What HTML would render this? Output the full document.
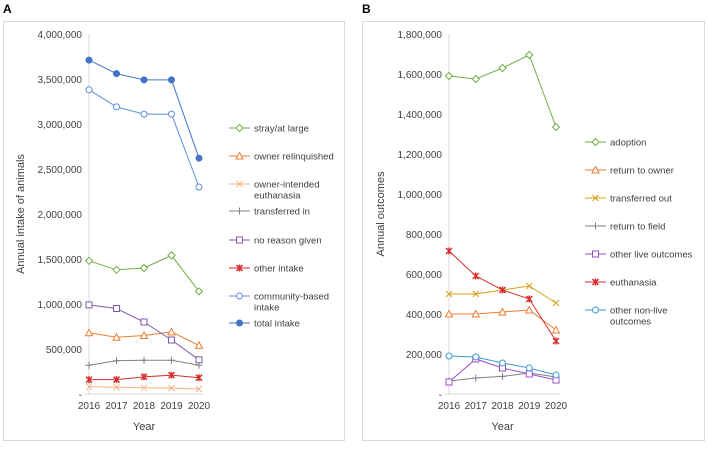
<!DOCTYPE html>
<html><head><meta charset="utf-8"><style>
body{margin:0;background:#fff;font-family:"Liberation Sans",sans-serif}
svg text{font-family:"Liberation Sans",sans-serif;fill:#404040}
</style></head><body>
<svg id="s" width="708" height="445" xmlns="http://www.w3.org/2000/svg">
<text x="3" y="13" font-size="12" font-weight="bold" style="fill:#000">A</text>
<text x="362" y="13" font-size="12" font-weight="bold" style="fill:#000">B</text>
<rect x="3.5" y="21.5" width="341" height="419" fill="none" stroke="#d9d9d9"/>
<rect x="362.5" y="21.5" width="342" height="419" fill="none" stroke="#d9d9d9"/>
</svg>
<script>
const years=["2016","2017","2018","2019","2020"];
const aNames=["stray/at large","owner relinquished","owner-intended|euthanasia","transferred in","no reason given","other intake","community-based|intake","total intake"];
const aStray=[1480000,1380000,1400000,1540000,1140000];
const aOwner=[680000,630000,650000,690000,540000];
const aOIE=[80000,75000,70000,65000,55000];
const aTransIn=[320000,370000,375000,375000,320000];
const aNoReason=[990000,950000,800000,600000,380000];
const aOther=[160000,160000,190000,210000,180000];
const aCommunity=[3380000,3190000,3110000,3110000,2300000];
const aTotal=[3710000,3560000,3490000,3490000,2620000];
const aTicks=[0,500000,1000000,1500000,2000000,2500000,3000000,3500000,4000000];
const bNames=["adoption","return to owner","transferred out","return to field","other live outcomes","euthanasia","other non-live|outcomes"];
const bAdopt=[1590000,1575000,1630000,1695000,1335000];
const bRTO=[400000,400000,410000,420000,320000];
const bTransOut=[500000,500000,520000,540000,455000];
const bRTF=[65000,80000,88000,105000,85000];
const bOtherLive=[60000,175000,130000,100000,70000];
const bEuth=[715000,590000,520000,475000,265000];
const bNonLive=[190000,185000,155000,130000,95000];
const bTicks=[0,200000,400000,600000,800000,1000000,1200000,1400000,1600000,1800000];

const NS="http://www.w3.org/2000/svg",svg=document.getElementById('s');
function el(t,a,p){const e=document.createElementNS(NS,t);for(const k in a)e.setAttribute(k,a[k]);(p||svg).appendChild(e);return e;}
function fmt(v){return v===0?"-":v.toLocaleString('en-US');}
function marker(g,type,x,y,c){
 let m;
 if(type==='diamond')m=el('path',{d:`M${x},${y-3.5}L${x+3.5},${y}L${x},${y+3.5}L${x-3.5},${y}Z`,fill:'#fff',stroke:c},g);
 else if(type==='tri')m=el('path',{d:`M${x},${y-3.5}L${x+3.5},${y+3}L${x-3.5},${y+3}Z`,fill:'#fff',stroke:c},g);
 else if(type==='x')m=el('path',{d:`M${x-3},${y-3}L${x+3},${y+3}M${x+3},${y-3}L${x-3},${y+3}`,stroke:c},g);
 else if(type==='plus')m=el('path',{d:`M${x-3.5},${y}L${x+3.5},${y}M${x},${y-3.5}L${x},${y+3.5}`,stroke:c},g);
 else if(type==='sq')m=el('rect',{x:x-3,y:y-3,width:6,height:6,fill:'#fff',stroke:c},g);
 else if(type==='star')m=el('path',{d:`M${x-3},${y-3}L${x+3},${y+3}M${x+3},${y-3}L${x-3},${y+3}M${x},${y-3.5}L${x},${y+3.5}`,stroke:c,'stroke-width':1.5},g);
 else if(type==='circ')m=el('circle',{cx:x,cy:y,r:3,fill:'#fff',stroke:c},g);
 else m=el('circle',{cx:x,cy:y,r:3,fill:c,stroke:c},g);
 
 
}
function chart(p){
 const y=v=>p.y0-(v/p.max)*(p.y0-p.y1);
 const x=i=>p.x0+i*p.dx;
 const ax=el('line',{x1:p.x0,y1:p.y1,x2:p.x0,y2:p.y0,stroke:'#d9d9d9'});
 
 const bx=el('line',{x1:p.x0-4,y1:p.y0,x2:x(4)+4,y2:p.y0,stroke:'#d9d9d9'});
 
 p.ticks.forEach(t=>{const tx=el('text',{x:p.x0-7,y:y(t)+4,'text-anchor':'end','font-size':10});tx.textContent=fmt(t);
  });
 years.forEach((yr,i)=>{const tx=el('text',{x:x(i),y:p.y0+15,'text-anchor':'middle','font-size':10});tx.textContent=yr;
  });
 const xt=el('text',{x:x(2),y:p.y0+36,'text-anchor':'middle','font-size':11});xt.textContent='Year';
 
 const yt=el('text',{x:0,y:0,'text-anchor':'middle','font-size':11,transform:`translate(${p.ytx},${(p.y0+p.y1)/2}) rotate(-90)`});yt.textContent=p.ytitle;
 
 p.series.forEach((s,k)=>{
  const g=el('g',{});
  
  el('polyline',{points:s.d.map((v,i)=>x(i)+','+y(v)).join(' '),fill:'none',stroke:s.c,'stroke-width':1},g);
  s.d.forEach((v,i)=>marker(g,s.m,x(i),y(v),s.c));
  const ly=p.ly[k];
  const lg=el('g',{});
  
  el('line',{x1:p.lx,y1:ly,x2:p.lx+21,y2:ly,stroke:s.c},lg);
  marker(lg,s.m,p.lx+10.5,ly,s.c);
  p.names[k].split('|').forEach((t,j)=>{const tx=el('text',{x:p.lx+25,y:ly+3.5+j*11,'font-size':9.5},lg);tx.textContent=t;});
 });
}
chart({id:'a',x0:89,dx:27.5,y0:394,y1:34,max:4000000,ticks:aTicks,ytitle:'Annual intake of animals',ytx:24,lx:229,
 ly:[128,156,184,211,240,268,296,323],names:aNames,series:[
 {d:aStray,c:'#70ad47',m:'diamond'},{d:aOwner,c:'#ed7d31',m:'tri'},{d:aOIE,c:'#f4b183',m:'x'},{d:aTransIn,c:'#808080',m:'plus'},
 {d:aNoReason,c:'#7c5aa6',m:'sq'},{d:aOther,c:'#d62d2d',m:'star'},{d:aCommunity,c:'#5b8fd5',m:'circ'},{d:aTotal,c:'#4472c4',m:'dot'}]});
chart({id:'b',x0:449,dx:26.75,y0:394,y1:34,max:1800000,ticks:bTicks,ytitle:'Annual outcomes',ytx:384,lx:585,
 ly:[142,170,198,226,254,282,310],names:bNames,series:[
 {d:bAdopt,c:'#70ad47',m:'diamond'},{d:bRTO,c:'#ed7d31',m:'tri'},{d:bTransOut,c:'#d4a017',m:'x'},{d:bRTF,c:'#808080',m:'plus'},
 {d:bOtherLive,c:'#9b4fc9',m:'sq'},{d:bEuth,c:'#d62d2d',m:'star'},{d:bNonLive,c:'#3d9ad1',m:'circ'}]});
</script>
</body></html>
